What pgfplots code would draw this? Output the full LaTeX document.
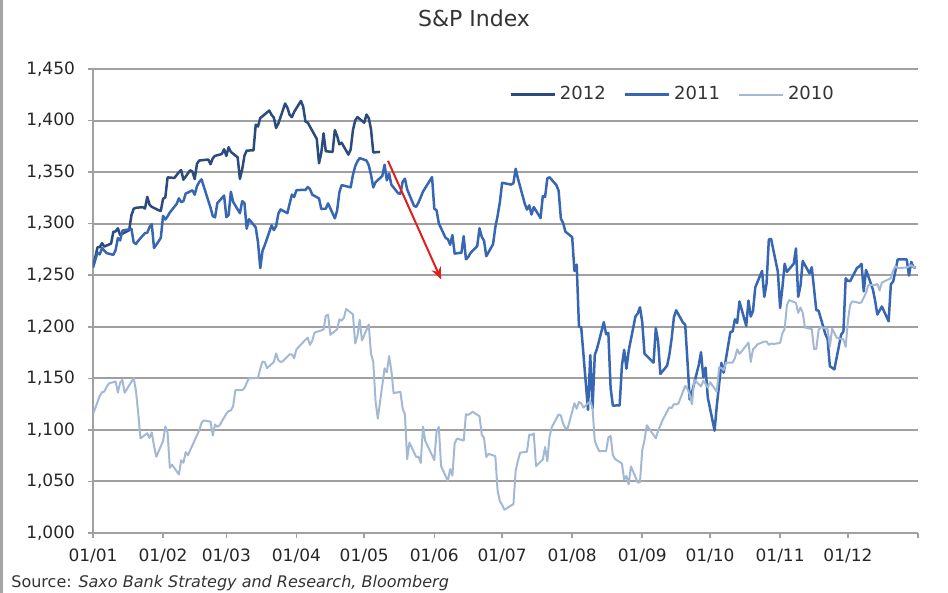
\documentclass[border=0pt]{standalone}
\usepackage{fontspec}
\setmainfont{DejaVu Sans}
\usepackage{pgfplots}
\pgfplotsset{compat=1.18}
\usetikzlibrary{arrows.meta}

\definecolor{c2012}{HTML}{2B4A7E}
\definecolor{c2011}{HTML}{3767B2}
\definecolor{c2010}{HTML}{A3B8D5}
\definecolor{gridgray}{HTML}{A0A0A0}
\definecolor{arrowred}{HTML}{E0201B}

\begin{document}
\begin{tikzpicture}
\useasboundingbox (-46.5pt,-30pt) rectangle (427.5pt,266.5pt);
\begin{axis}[
	scale only axis,
	width=412.5pt, height=232pt,
	xmin=0, xmax=365, ymin=1000, ymax=1450,
	axis lines*=left,
	axis line style={draw=gridgray, line width=1pt},
	xtick={0,31,59,90,120,151,181,212,243,273,304,334,365},
	xticklabels={01/01,01/02,01/03,01/04,01/05,01/06,01/07,01/08,01/09,01/10,01/11,01/12,{}},
	ytick={1000,1050,...,1450},
	yticklabels={{1,000},{1,050},{1,100},{1,150},{1,200},{1,250},{1,300},{1,350},{1,400},{1,450}},
	tick align=outside,
	major tick length=2.5pt,
	tick style={draw=gridgray, line width=0.8pt},
	ymajorgrids,
	grid style={draw=gridgray, line width=1pt},
	ticklabel style={font=\fontsize{8.5}{10}\selectfont, text=black!85},
	xticklabel style={yshift=-2pt},
	yticklabel style={xshift=-3pt},
	no markers,
	line join=round,
	legend style={draw=none, fill=none, at={(0.497,0.945)}, anchor=west,
		legend columns=3, font=\fontsize{9}{10}\selectfont, text=black!80,
		/tikz/every even column/.append style={column sep=7pt}},
	legend image code/.code={\draw[#1] (0pt,0pt) -- (22pt,0pt);},
]

%% 2012
\addplot[c2012, line width=1.25pt] coordinates {
(0,1257.60) (2,1277.06) (3,1277.30) (4,1281.06) (5,1277.81) (8,1280.70) (9,1292.08)
(10,1292.48) (11,1295.50) (12,1289.09) (16,1293.67) (17,1308.04) (18,1314.50) (19,1315.38)
(22,1316.00) (23,1314.65) (24,1326.06) (25,1318.43) (26,1316.33) (29,1313.01) (30,1312.41)
(31,1324.09) (32,1325.54) (33,1344.90) (36,1344.33) (37,1347.05) (38,1349.96) (39,1351.95)
(40,1342.64) (43,1351.77) (44,1350.50) (45,1343.23) (46,1358.04) (47,1361.23) (51,1362.21)
(52,1357.66) (53,1363.46) (54,1365.74) (57,1367.59) (58,1372.18) (59,1365.68) (60,1374.09)
(61,1369.63) (64,1364.33) (65,1343.36) (66,1352.63) (67,1365.91) (68,1370.87) (71,1371.09)
(72,1395.95) (73,1394.28) (74,1402.60) (75,1404.17) (78,1409.75) (79,1405.52) (80,1402.89)
(81,1392.78) (82,1397.11) (85,1416.51) (86,1412.52) (87,1405.54) (88,1403.28) (89,1408.47)
(92,1419.04) (93,1413.38) (94,1398.96) (95,1398.08) (99,1382.20) (100,1358.59) (101,1368.71)
(102,1387.57) (103,1370.26) (106,1369.57) (107,1390.78) (108,1385.14) (109,1376.92) (110,1378.53)
(113,1366.94) (114,1371.97) (115,1390.69) (116,1399.98) (117,1403.36) (120,1397.91) (121,1405.82)
(122,1402.31) (123,1391.57) (124,1369.10) (127,1369.58)
};
\addlegendentry{2012}

%% 2011
\addplot[c2011, line width=1.25pt] coordinates {
(0,1257.64) (2,1271.87) (3,1270.20) (4,1276.56) (5,1273.85) (6,1271.50) (9,1269.75)
(10,1274.48) (11,1285.96) (12,1283.76) (13,1293.24) (17,1295.02) (18,1281.92) (19,1280.26)
(20,1283.35) (23,1290.84) (24,1291.18) (25,1296.63) (26,1299.54) (27,1276.34) (30,1286.12)
(31,1307.59) (32,1304.03) (33,1307.10) (34,1310.87) (37,1319.05) (38,1324.57) (39,1320.88)
(40,1321.87) (41,1329.15) (44,1332.32) (45,1328.01) (46,1336.32) (47,1340.43) (48,1343.01)
(52,1315.44) (53,1307.40) (54,1306.10) (55,1319.88) (58,1327.22) (59,1306.33) (60,1308.44)
(61,1330.97) (62,1321.15) (65,1310.13) (66,1321.82) (67,1320.02) (68,1295.11) (69,1304.28)
(72,1296.39) (73,1281.87) (74,1256.88) (75,1273.72) (76,1279.21) (79,1298.38) (80,1293.77)
(81,1297.54) (82,1309.66) (83,1313.80) (86,1310.19) (87,1319.44) (88,1328.26) (89,1325.83)
(90,1332.41) (93,1332.87) (94,1332.63) (95,1335.54) (96,1333.51) (97,1328.17) (100,1324.46)
(101,1314.16) (102,1314.41) (103,1314.52) (104,1319.68) (107,1305.14) (108,1312.62) (109,1330.36)
(110,1337.38) (114,1335.25) (115,1347.24) (116,1355.66) (117,1360.48) (118,1363.61) (121,1361.22)
(122,1356.62) (123,1347.32) (124,1335.10) (125,1340.20) (128,1346.29) (129,1357.16) (130,1342.08)
(131,1348.65) (132,1337.77) (135,1329.47) (136,1328.98) (137,1340.68) (138,1343.60) (139,1333.27)
(142,1317.37) (143,1316.28) (144,1320.47) (145,1325.69) (146,1331.10) (150,1345.20) (151,1314.55)
(152,1312.94) (153,1300.16) (156,1286.17) (157,1284.94) (158,1279.56) (159,1289.00) (160,1270.98)
(163,1271.83) (164,1287.87) (165,1265.42) (166,1267.64) (167,1271.50) (170,1278.36) (171,1295.52)
(172,1287.14) (173,1283.50) (174,1268.45) (177,1280.10) (178,1296.67) (179,1307.41) (180,1320.64)
(181,1339.67) (185,1337.88) (186,1339.22) (187,1353.22) (188,1343.80) (191,1319.49) (192,1313.64)
(193,1317.72) (194,1308.87) (195,1316.14) (198,1305.44) (199,1326.73) (200,1325.84) (201,1343.80)
(202,1345.02) (205,1337.43) (206,1331.94) (207,1304.89) (208,1300.67) (209,1292.28) (212,1286.94)
(213,1254.05) (214,1260.34) (215,1200.07) (216,1199.38) (219,1119.46) (220,1172.53) (221,1120.76)
(222,1172.64) (223,1178.81) (226,1204.49) (227,1192.76) (228,1193.89) (229,1140.65) (230,1123.53)
(233,1123.82) (234,1162.35) (235,1177.60) (236,1159.27) (237,1176.80) (240,1210.08) (241,1212.92)
(242,1218.89) (243,1204.42) (244,1173.97) (248,1165.24) (249,1198.62) (250,1185.90) (251,1154.23)
(254,1162.27) (255,1172.87) (256,1188.68) (257,1209.11) (258,1216.01) (261,1204.09) (262,1202.09)
(263,1166.76) (264,1129.56) (265,1136.43) (268,1162.95) (269,1175.38) (270,1151.06) (271,1160.40)
(272,1131.42) (275,1099.23) (276,1123.95) (277,1144.03) (278,1164.97) (279,1155.46) (282,1194.89)
(283,1195.54) (284,1207.25) (285,1203.66) (286,1224.58) (289,1200.86) (290,1225.38) (291,1209.88)
(292,1215.39) (293,1238.25) (296,1254.19) (297,1229.05) (298,1242.00) (299,1284.59) (300,1285.09)
(303,1253.30) (304,1218.28) (305,1237.90) (306,1261.15) (307,1253.23) (310,1261.12) (311,1275.92)
(312,1229.10) (313,1239.70) (314,1263.85) (317,1251.78) (318,1257.81) (319,1236.91) (320,1216.13)
(321,1215.65) (324,1192.98) (325,1188.04) (326,1161.79) (328,1158.67) (331,1192.55) (332,1195.19)
(333,1246.96) (334,1244.58) (335,1244.28) (338,1257.08) (339,1258.47) (340,1261.01) (341,1234.35)
(342,1255.19) (345,1236.47) (346,1225.73) (347,1211.82) (348,1215.75) (349,1219.66) (352,1205.35)
(353,1241.30) (354,1243.72) (355,1254.00) (356,1265.33) (360,1265.43) (361,1249.64) (362,1263.02)
(363,1257.60) (364,1257.60)
};
\addlegendentry{2011}

%% 2010
\addplot[c2010, line width=1pt] coordinates {
(0,1115.10) (3,1132.99) (4,1136.52) (5,1137.14) (6,1141.69) (7,1144.98) (10,1146.98)
(11,1136.22) (12,1145.68) (13,1148.46) (14,1136.03) (18,1150.23) (19,1138.04) (20,1116.48)
(21,1091.76) (24,1096.78) (25,1092.17) (26,1097.50) (27,1084.53) (28,1073.87) (31,1089.19)
(32,1103.32) (33,1097.28) (34,1063.11) (35,1066.19) (38,1056.74) (39,1070.52) (40,1068.13)
(41,1078.47) (42,1075.51) (46,1094.87) (47,1099.51) (48,1106.75) (49,1109.17) (52,1108.01)
(53,1094.60) (54,1105.24) (55,1102.94) (56,1104.49) (59,1115.71) (60,1118.31) (61,1118.79)
(62,1122.97) (63,1138.70) (66,1138.50) (67,1140.45) (68,1145.61) (69,1150.24) (70,1149.99)
(73,1150.51) (74,1159.46) (75,1166.21) (76,1165.83) (77,1159.90) (80,1165.81) (81,1174.17)
(82,1167.72) (83,1165.73) (84,1166.59) (87,1173.22) (88,1173.27) (89,1169.43) (90,1178.10)
(94,1187.44) (95,1189.44) (96,1182.45) (97,1186.44) (98,1194.37) (101,1196.48) (102,1197.30)
(103,1210.65) (104,1211.67) (105,1192.13) (108,1197.52) (109,1207.17) (110,1205.94) (111,1208.67)
(112,1217.28) (115,1212.05) (116,1183.71) (117,1191.36) (118,1206.78) (119,1186.69) (122,1202.26)
(123,1173.60) (124,1165.87) (125,1128.15) (126,1110.88) (129,1159.73) (130,1155.79) (131,1171.67)
(132,1157.44) (133,1135.68) (136,1136.94) (137,1120.80) (138,1115.05) (139,1071.59) (140,1087.69)
(143,1073.65) (144,1074.03) (145,1067.95) (146,1103.06) (147,1089.41) (151,1070.71) (152,1098.38)
(153,1102.83) (154,1064.88) (157,1050.47) (158,1062.00) (159,1055.69) (160,1086.84) (161,1091.60)
(164,1089.63) (165,1115.23) (166,1114.61) (167,1116.04) (168,1117.51) (171,1113.20) (172,1095.31)
(173,1092.04) (174,1073.69) (175,1076.76) (178,1074.57) (179,1041.24) (180,1030.71) (181,1027.37)
(182,1022.58) (186,1028.06) (187,1060.27) (188,1070.25) (189,1077.96) (192,1078.75) (193,1095.34)
(194,1095.17) (195,1096.48) (196,1064.88) (199,1071.25) (200,1083.48) (201,1069.59) (202,1093.67)
(203,1102.66) (206,1115.01) (207,1113.84) (208,1106.13) (209,1101.53) (210,1101.60) (213,1125.86)
(214,1120.46) (215,1127.24) (216,1125.81) (217,1121.64) (220,1127.79) (221,1121.06) (222,1089.47)
(223,1083.61) (224,1079.25) (227,1079.38) (228,1092.54) (229,1094.16) (230,1075.63) (231,1071.69)
(234,1067.36) (235,1051.87) (236,1055.33) (237,1047.22) (238,1064.59) (241,1048.92) (242,1049.33)
(243,1080.29) (244,1090.10) (245,1104.51) (249,1091.84) (250,1098.87) (251,1104.18) (252,1109.55)
(255,1121.90) (256,1121.10) (257,1125.07) (258,1124.66) (259,1125.59) (262,1142.71) (263,1139.78)
(264,1134.28) (265,1124.83) (266,1148.67) (269,1142.16) (270,1147.70) (271,1144.73) (272,1141.20)
(273,1146.24) (276,1137.03) (277,1160.75) (278,1159.97) (279,1158.06) (280,1165.15) (283,1165.32)
(284,1169.77) (285,1178.10) (286,1173.81) (287,1176.19) (290,1184.71) (291,1165.90) (292,1178.17)
(293,1180.26) (294,1183.08) (297,1185.62) (298,1185.64) (299,1182.45) (300,1183.78) (301,1183.26)
(304,1184.38) (305,1193.57) (306,1197.96) (307,1221.06) (308,1225.85) (311,1223.25) (312,1213.40)
(313,1218.71) (314,1213.54) (315,1199.21) (318,1197.75) (319,1178.34) (320,1178.59) (321,1196.69)
(322,1199.73) (325,1197.84) (326,1180.73) (327,1198.35) (329,1189.40) (332,1187.76) (333,1180.55)
(334,1206.07) (335,1221.53) (336,1224.71) (339,1223.12) (340,1223.75) (341,1228.28) (342,1233.00)
(343,1240.40) (346,1240.46) (347,1241.59) (348,1235.23) (349,1242.87) (350,1243.91) (353,1247.08)
(354,1254.60) (355,1258.84) (356,1256.77) (360,1257.54) (361,1258.51) (362,1259.78) (363,1257.88)
(364,1257.64)
};
\addlegendentry{2010}

%% annotation arrow
\draw[arrowred, line width=1pt, -{Stealth[length=6pt,width=5pt]}] (axis cs:130.5,1361) -- (axis cs:154,1246);
\end{axis}

\node[font=\fontsize{11}{13}\selectfont, text=black!80] at (190.5pt,257.5pt) {S\&P Index};
\node[anchor=south west, inner sep=0.5pt, font=\fontsize{8}{9.5}\selectfont, text=black!80] at (-41.5pt,-29.8pt) {Source: \textit{Saxo Bank Strategy and Research, Bloomberg}};
\draw[gray!70, line width=1.5pt] (-45.75pt,-30pt) -- (-45.75pt,266.5pt);
\end{tikzpicture}
\end{document}
